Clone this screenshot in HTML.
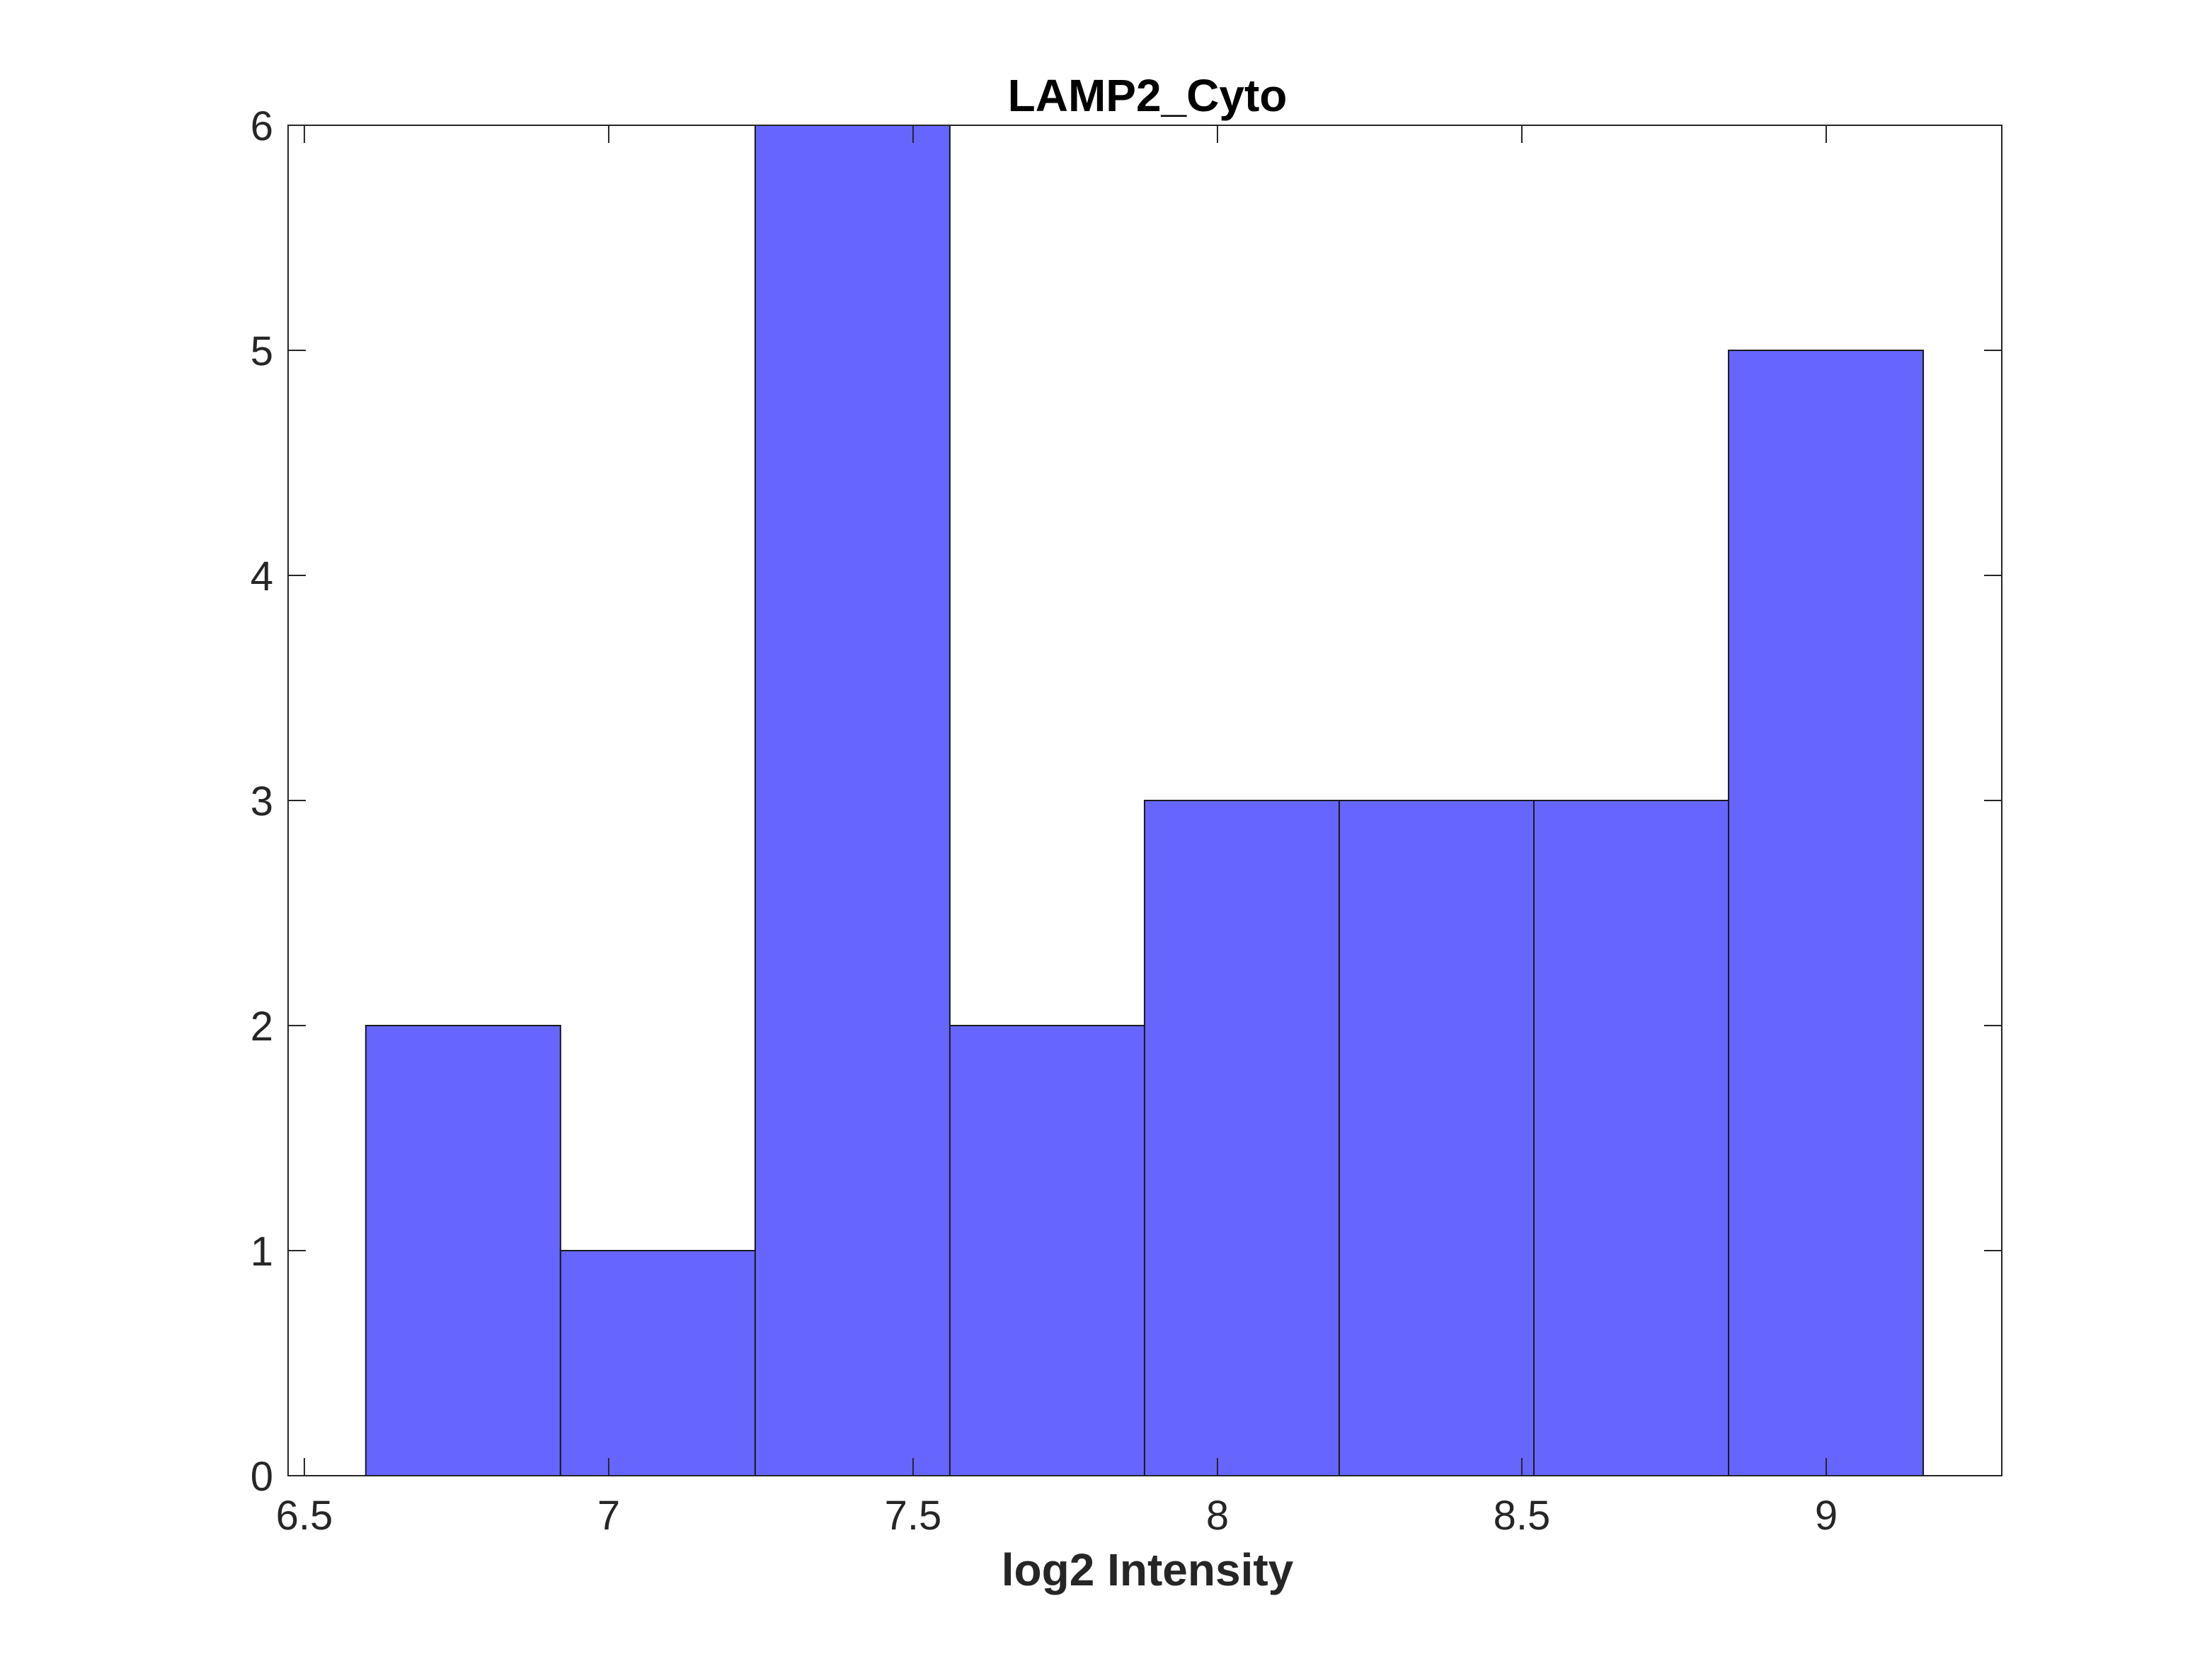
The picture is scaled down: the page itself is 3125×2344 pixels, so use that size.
<!DOCTYPE html>
<html><head><meta charset="utf-8"><style>
html,body{margin:0;padding:0;background:#fff;}
svg{display:block;font-family:"Liberation Sans",Arial,sans-serif;}
</style></head><body>
<svg id="chart" width="3125" height="2344" viewBox="0 0 3125 2344" xmlns="http://www.w3.org/2000/svg">
<rect width="3125" height="2344" fill="#fff"/>
<g id="bars"></g>
<g id="axes"></g>
<text x="1621" y="157" text-anchor="middle" font-size="64" font-weight="bold" fill="#000">LAMP2_Cyto</text>
<text x="1621" y="2240" text-anchor="middle" font-size="64" font-weight="bold" fill="#262626">log2 Intensity</text>
</svg>
<script>
const binStart = 6.601;
const binWidth = 0.3198;
const counts = [2, 1, 6, 2, 3, 3, 3, 5];
const xTicks = [6.5, 7, 7.5, 8, 8.5, 9];
const xTickLabels = ["6.5", "7", "7.5", "8", "8.5", "9"];
const yTicks = [0, 1, 2, 3, 4, 5, 6];
const yTickLabels = ["0", "1", "2", "3", "4", "5", "6"];

const L = 407, R = 2828, T = 177, B = 2085;
const xMin = 6.4733, xMax = 9.2884, yMin = 0, yMax = 6;
const sx = v => L + (v - xMin) / (xMax - xMin) * (R - L);
const sy = v => B - (v - yMin) / (yMax - yMin) * (B - T);
const NS = "http://www.w3.org/2000/svg";
function mk(tag, attrs, parent) {
  const e = document.createElementNS(NS, tag);
  for (const k in attrs) e.setAttribute(k, attrs[k]);
  parent.appendChild(e);
  return e;
}
const bars = document.getElementById('bars');
counts.forEach((c, i) => {
  const x0 = sx(binStart + i * binWidth), x1 = sx(binStart + (i + 1) * binWidth);
  const r = mk('rect', {x: x0, y: sy(c), width: x1 - x0, height: sy(0) - sy(c), fill: '#6666FF', stroke: '#1a1a1a', 'stroke-width': 2}, bars);
  
  
});
const axes = document.getElementById('axes');
const box = mk('rect', {x: L, y: T, width: R - L, height: B - T, fill: 'none', stroke: '#262626', 'stroke-width': 2}, axes);


const tl = 25;
xTicks.forEach((v, i) => {
  const x = sx(v);
  mk('line', {x1: x, y1: B, x2: x, y2: B - tl, stroke: '#262626', 'stroke-width': 2}, axes);
  mk('line', {x1: x, y1: T, x2: x, y2: T + tl, stroke: '#262626', 'stroke-width': 2}, axes);
  const t = mk('text', {x: x, y: 2161, 'text-anchor': 'middle', 'font-size': 58, fill: '#262626'}, axes);
  t.textContent = xTickLabels[i];
  
  
});
yTicks.forEach((v, i) => {
  const y = sy(v);
  mk('line', {x1: L, y1: y, x2: L + tl, y2: y, stroke: '#262626', 'stroke-width': 2}, axes);
  mk('line', {x1: R, y1: y, x2: R - tl, y2: y, stroke: '#262626', 'stroke-width': 2}, axes);
  const t = mk('text', {x: 386, y: y + 21, 'text-anchor': 'end', 'font-size': 58, fill: '#262626'}, axes);
  t.textContent = yTickLabels[i];
  
  
});
</script>
</body></html>
